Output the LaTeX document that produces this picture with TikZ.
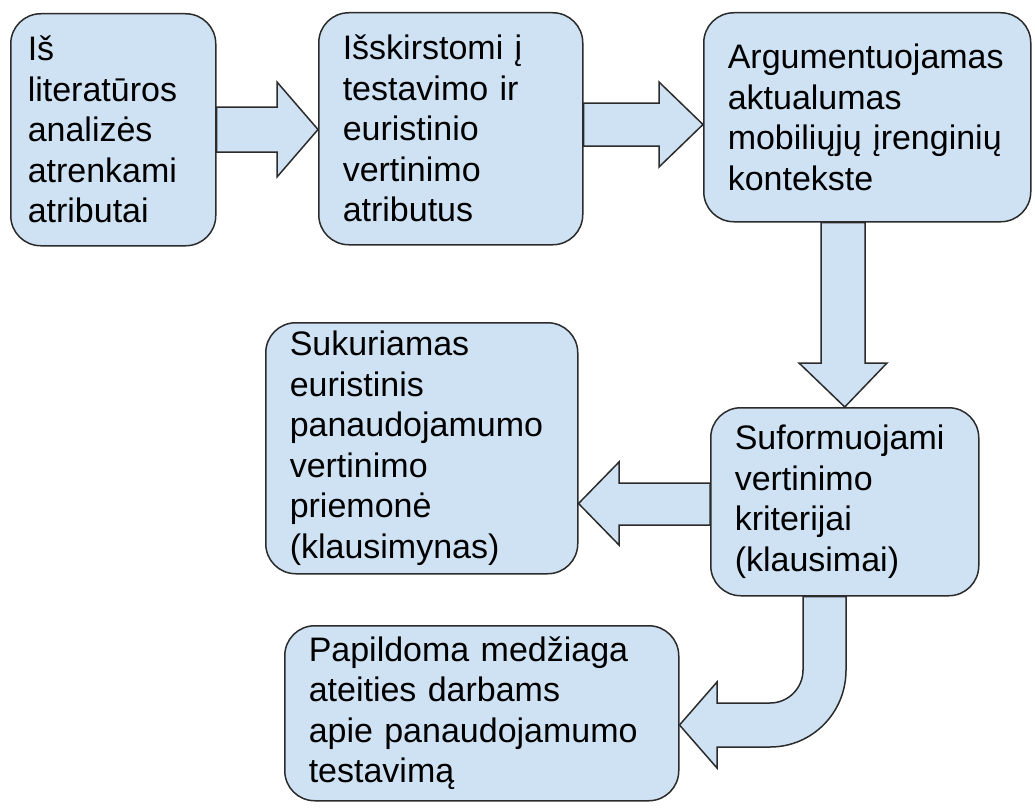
\documentclass[tikz,border=0pt]{standalone}
\usepackage{fontspec}
\setmainfont{Liberation Sans}
\definecolor{boxfill}{HTML}{CFE2F3}
\definecolor{boxline}{HTML}{2B2B2B}
\begin{document}
\begin{tikzpicture}[x=1pt,y=-1pt,
  stepbox/.style={draw=boxline, fill=boxfill, line width=1.5pt, rounded corners=30pt,
    anchor=north west, align=left, inner xsep=24pt, inner ysep=0pt,
    font=\fontsize{34}{40.5}\selectfont},
  blockarrow/.style={draw=boxline, fill=boxfill, line width=1.5pt, line join=miter}]
\useasboundingbox (0,0) rectangle (1035,808);

% process steps
\node[stepbox, inner xsep=17pt, minimum width=205pt, minimum height=232pt, text width=171pt] (b1) at (10,13)
  {Iš\\literatūros\\analizės\\atrenkami\\atributai};
\node[stepbox, minimum width=264pt, minimum height=232pt, text width=216pt] (b2) at (318,12)
  {Išskirstomi į\\testavimo ir\\euristinio\\vertinimo\\atributus};
\node[stepbox, minimum width=327pt, minimum height=209pt, text width=279pt] (b3) at (703,12)
  {Argumentuojamas\\aktualumas\\mobiliųjų įrenginių\\kontekste};
\node[stepbox, minimum width=268pt, minimum height=188pt, text width=220pt] (b4) at (710,407)
  {Suformuojami\\vertinimo\\kriterijai\\(klausimai)};
\node[stepbox, minimum width=312pt, minimum height=251pt, text width=264pt] (b5) at (265,322)
  {Sukuriamas\\euristinis\\panaudojamumo\\vertinimo\\priemonė\\(klausimynas)};
\node[stepbox, minimum width=394pt, minimum height=175pt, text width=346pt] (b6) at (284,625)
  {Papildoma medžiaga\\ateities darbams\\apie panaudojamumo\\testavimą};

% b1 -> b2
\draw[blockarrow] (b1.east |- 0,107) -- (277,107) -- (277,82) -- (b2.west |- 0,129.5)
  -- (277,177) -- (277,152) -- (b1.east |- 0,152) -- cycle;
% b2 -> b3
\draw[blockarrow] (b2.east |- 0,103) -- (659,103) -- (659,82) -- (b3.west |- 0,124.5)
  -- (659,167) -- (659,146) -- (b2.east |- 0,146) -- cycle;
% b3 -> b4
\draw[blockarrow] (821,0 |- b3.south) -- (821,363) -- (799,363) -- (b4.north)
  -- (887,363) -- (865,363) -- (865,0 |- b3.south) -- cycle;
% b4 -> b5
\draw[blockarrow] (b4.west |- 0,483) -- (619,483) -- (619,462) -- (b5.east |- 0,503.5)
  -- (619,545) -- (619,525) -- (b4.west |- 0,525) -- cycle;
% b4 -> b6, bending down and to the left
\draw[blockarrow] (803,0 |- b4.south) -- (803,670)
  .. controls (803,688.2) and (788.2,703) .. (770,703)
  -- (717,703) -- (717,682) -- (b6.east |- 0,725) -- (717,768) -- (717,747) -- (770,747)
  .. controls (812,747) and (846,713) .. (846,670)
  -- (846,0 |- b4.south) -- cycle;
\end{tikzpicture}
\end{document}
